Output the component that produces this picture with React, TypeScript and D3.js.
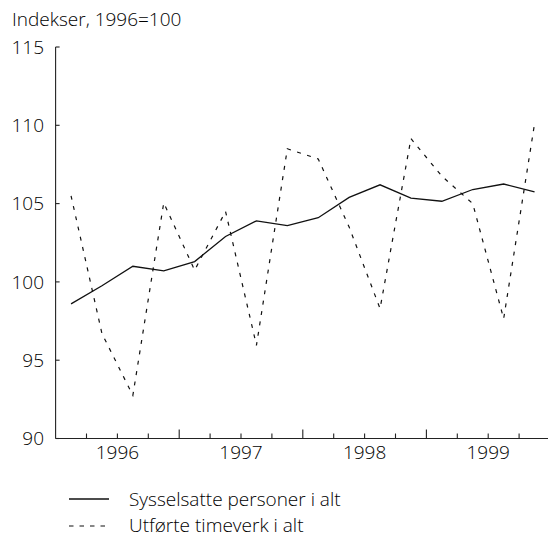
import * as d3 from 'd3';

const years = ['1996', '1997', '1998', '1999'];
const quarters = years.flatMap((y) => ['K1', 'K2', 'K3', 'K4'].map((q) => `${y}${q}`));

const persons = [
  98.6, 99.75, 101.0, 100.7, 101.3, 102.9, 103.9, 103.6,
  104.1, 105.4, 106.2, 105.35, 105.15, 105.9, 106.25, 105.75,
];
const hours = [
  105.5, 96.7, 92.75, 105.05, 100.75, 104.5, 95.95, 108.5,
  107.85, 103.5, 98.3, 109.15, 106.75, 105.0, 97.65, 110.1,
];
const yTicks = [90, 95, 100, 105, 110, 115];

const W = 548;
const H = 538;
const FONT = '"Open Sans", sans-serif';
const FS = 19;

export default function App() {
  const x = d3.scaleBand<string>().domain(quarters).range([55.6, 550]).padding(0);
  const y = d3.scaleLinear().domain([90, 115]).range([438.5, 47]);
  const cx = (q: string) => (x(q) ?? 0) + x.bandwidth() / 2;

  const line = d3
    .line<number>()
    .x((_, i) => cx(quarters[i]))
    .y((d) => y(d));

  const x0 = 55.6;
  const yb = y(90);

  return (
    <svg
      width={W}
      height={H}
      style={{ position: 'absolute', left: 0, top: 0, background: '#fff' }}
      fontFamily={FONT}
      fontWeight={300}
    >
      <text x={12} y={26} fontSize={FS} fill="#000">
        Indekser, 1996=100
      </text>

      {/* y axis */}
      <line x1={x0} x2={x0} y1={y(115)} y2={yb} stroke="#222" strokeWidth={1.1} />
      {yTicks.map((t) => (
        <g key={t}>
          <line x1={x0} x2={x0 + 4} y1={y(t)} y2={y(t)} stroke="#222" strokeWidth={1.1} />
          <text x={44} y={y(t)} dy="0.36em" textAnchor="end" fontSize={FS} fill="#000">
            {t}
          </text>
        </g>
      ))}

      {/* x axis */}
      <line x1={x0} x2={W} y1={yb} y2={yb} stroke="#222" strokeWidth={1.1} />
      {quarters.map((q, i) =>
        i === 0 ? null : (
          <line
            key={q}
            x1={x(q)}
            x2={x(q)}
            y1={yb}
            y2={yb - (i % 4 === 0 ? 9 : 5)}
            stroke="#222"
            strokeWidth={1.1}
          />
        )
      )}
      {years.map((yr) => {
        const a = x(`${yr}K1`) ?? 0;
        const b = (x(`${yr}K4`) ?? 0) + x.bandwidth();
        return (
          <text key={yr} x={(a + b) / 2} y={yb + 20.5} textAnchor="middle" fontSize={FS} fill="#000">
            {yr}
          </text>
        );
      })}

      {/* series */}
      <path d={line(hours) ?? ''} fill="none" stroke="#111" strokeWidth={1.2} strokeDasharray="4 6.5" />
      <path d={line(persons) ?? ''} fill="none" stroke="#111" strokeWidth={1.3} />

      {/* legend */}
      <line x1={69} x2={109} y1={499} y2={499} stroke="#111" strokeWidth={1.3} />
      <text x={129} y={506} fontSize={FS} fill="#000">
        Sysselsatte personer i alt
      </text>
      <line x1={69} x2={109} y1={526} y2={526} stroke="#111" strokeWidth={1.2} strokeDasharray="4.5 6" />
      <text x={129} y={532} fontSize={FS} fill="#000">
        Utførte timeverk i alt
      </text>
    </svg>
  );
}
